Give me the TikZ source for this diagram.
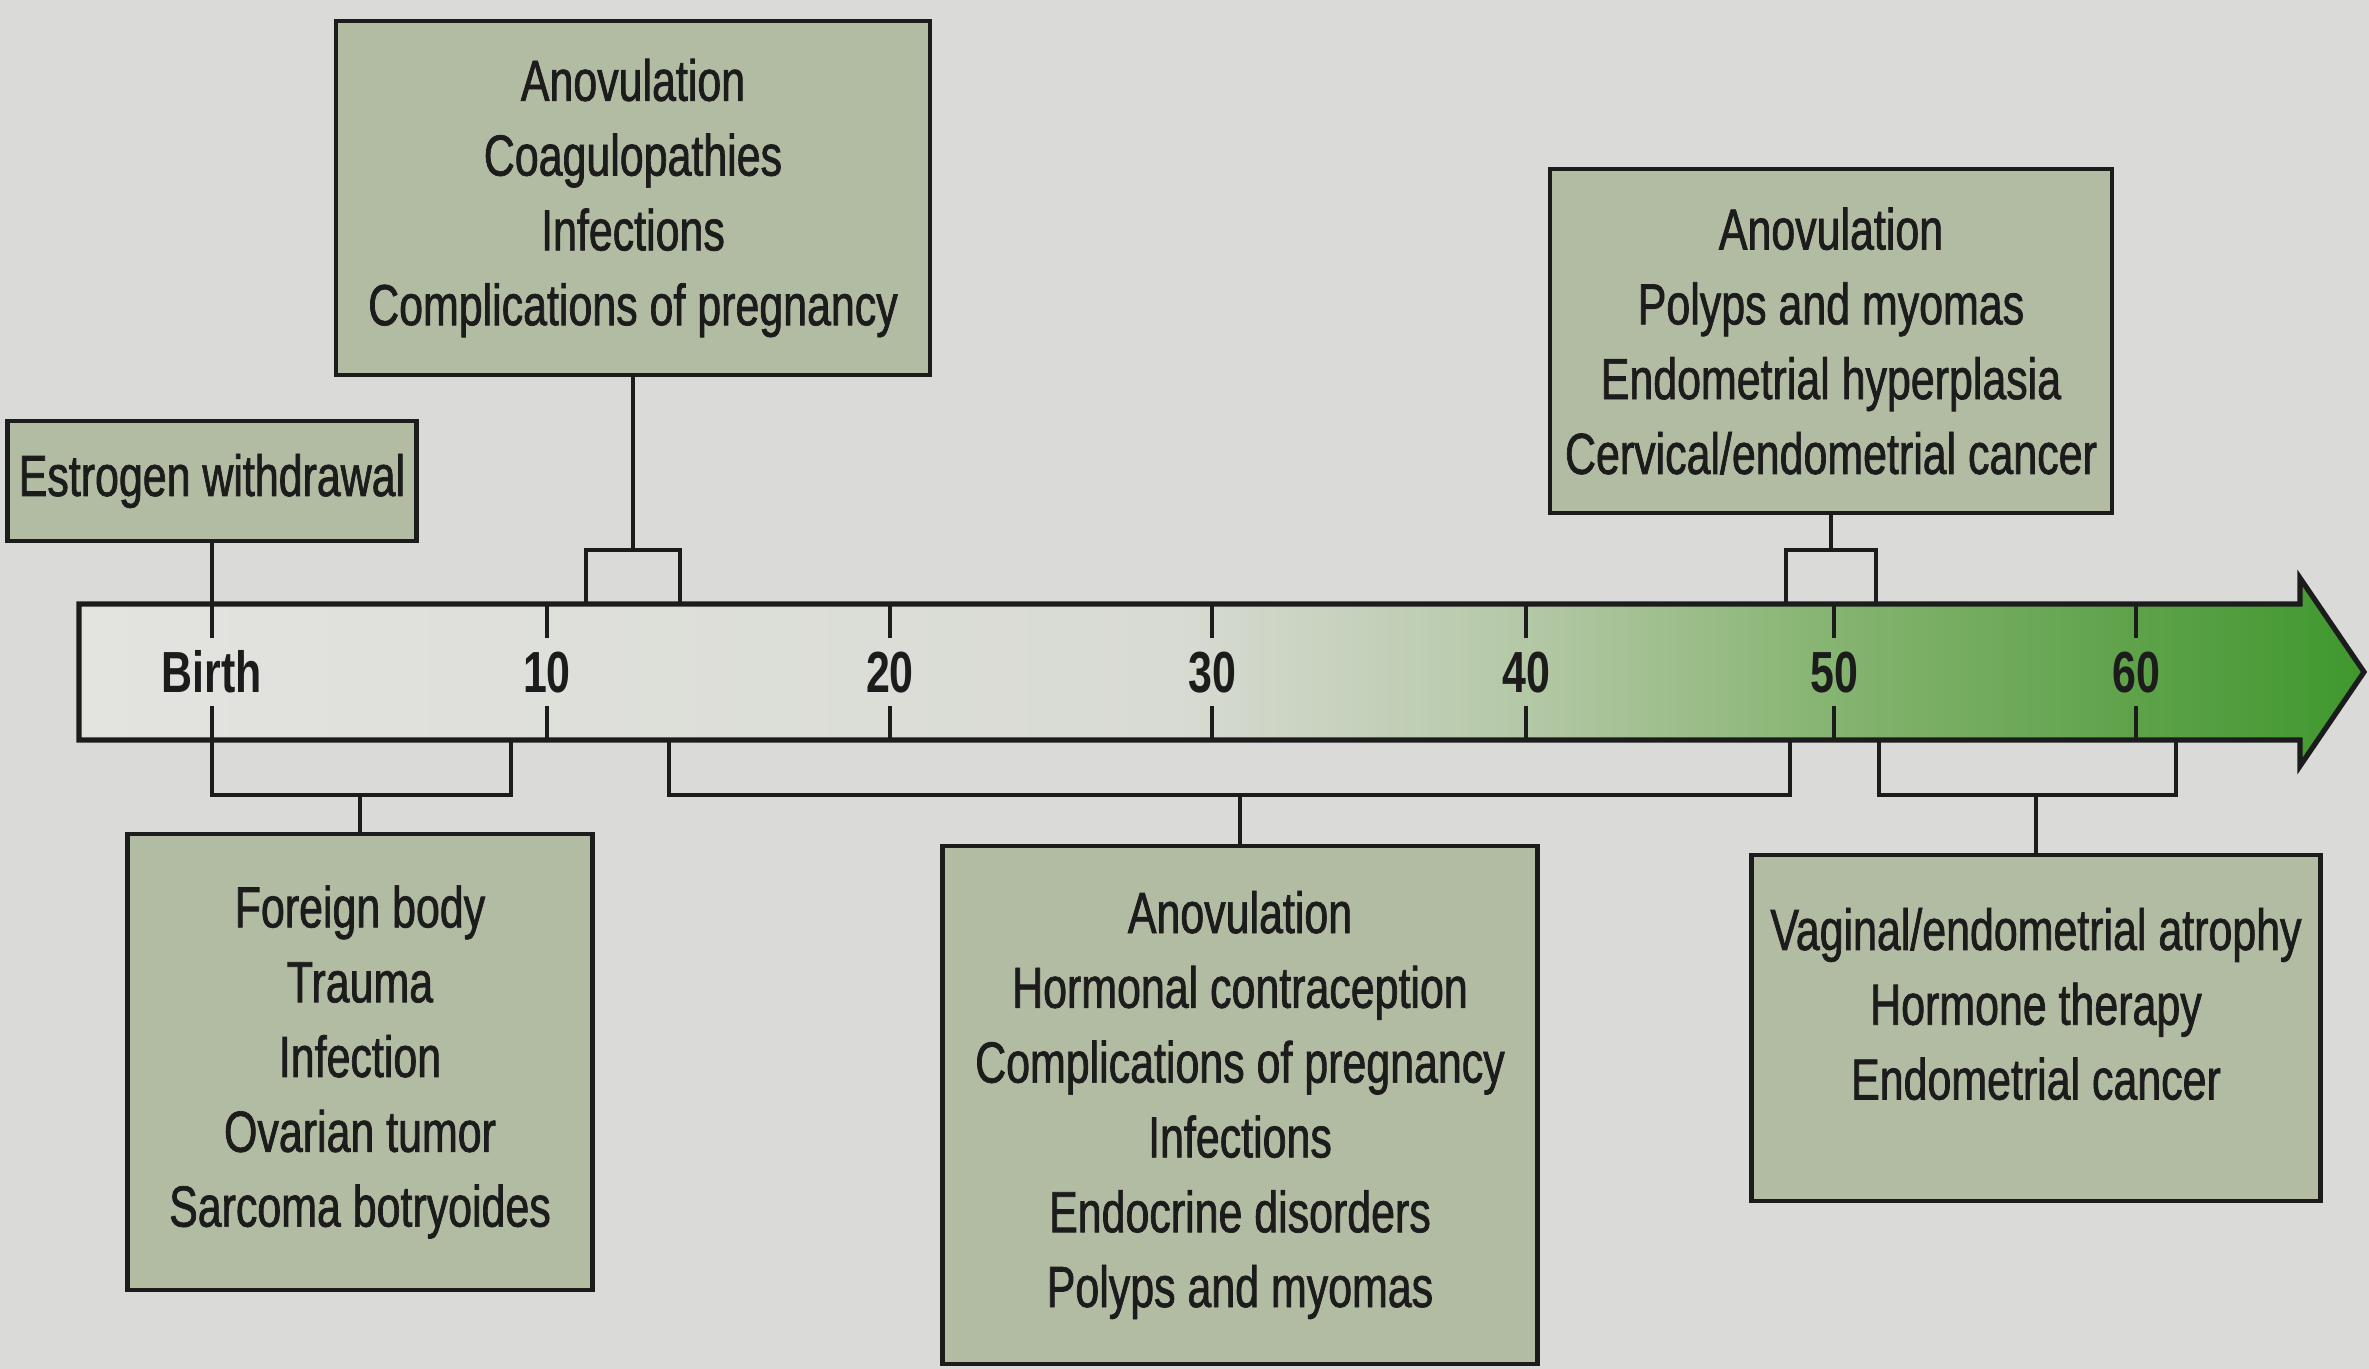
\documentclass[tikz,border=0pt]{standalone}
\usepackage{fontspec}
\setmainfont{Liberation Sans}[FakeStretch=0.74]
\newfontfamily\boxfam{Liberation Sans}[FakeStretch=0.74, FakeBold=1.2]
\definecolor{paper}{HTML}{DADAD8}
\definecolor{boxfill}{HTML}{B1BCA3}
\definecolor{ink}{HTML}{1C1C1C}
\definecolor{barL}{HTML}{E3E3E0}
\definecolor{barM}{HTML}{D8DBD3}
\definecolor{gA}{HTML}{B2C7A4}
\definecolor{gB}{HTML}{88B573}
\definecolor{gC}{HTML}{5EA24A}
\definecolor{gD}{HTML}{3F982E}
\pgfdeclarehorizontalshading{barshade}{100bp}{color(0bp)=(barL); color(25bp)=(barL); color(49bp)=(barM); color(57bp)=(gA); color(63bp)=(gB); color(70bp)=(gC); color(75bp)=(gD); color(100bp)=(gD)}
\newcommand{\boxfont}{\boxfam\fontsize{14.5}{18.7}\selectfont}
\begin{document}
\begin{tikzpicture}[x=0.25pt,y=-0.25pt,
  box/.style={draw=ink, line width=1.1pt, fill=boxfill, align=center, font=\boxfont, text=ink, inner sep=0pt},
  boxtext/.style={align=center, font=\boxfont, text=ink, inner sep=0pt},
  tlabel/.style={font=\bfseries\fontsize{14.5}{17}\selectfont, text=ink, text height=10.4pt, text depth=0pt, inner xsep=2pt, inner ysep=3pt},
  stem/.style={draw=ink, line width=0.8pt},
  bracket/.style={draw=ink, line width=1.1pt}]
\useasboundingbox (0,0) rectangle (2369,1369);
\fill[paper] (0,0) rectangle (2369,1369);

% timeline bar
\shadedraw[shading=barshade, draw=ink, line width=1.3pt, line join=miter]
  (79,604) -- (2300,604) -- (2300,578) -- (2364,672) -- (2300,766) -- (2300,740) -- (79,740) -- cycle;

\coordinate (bT) at (0,604);
\coordinate (bB) at (0,740);
\coordinate (yA) at (0,550);
\coordinate (yL) at (0,795);

% tick labels
\node[tlabel] (l0) at (212,672) {Birth};
\node[tlabel] (l1) at (547,672) {10};
\node[tlabel] (l2) at (890,672) {20};
\node[tlabel] (l3) at (1212,672) {30};
\node[tlabel] (l4) at (1526,672) {40};
\node[tlabel] (l5) at (1834,672) {50};
\node[tlabel] (l6) at (2136,672) {60};
\foreach \i in {1,...,6}{
  \draw[stem] (l\i.north) -- (l\i.north |- bT);
  \draw[stem] (l\i.south) -- (l\i.south |- bB);
}

% boxes
\node[box, minimum width=148.5pt, minimum height=88.5pt] (tc) at (633,198)
  {Anovulation\\Coagulopathies\\Infections\\Complications of pregnancy};
\node[box, minimum width=102.25pt, minimum height=30pt] (est) at (212,481)
  {Estrogen withdrawal};
\node[box, minimum width=140.5pt, minimum height=86pt] (tr) at (1831,341)
  {Anovulation\\Polyps and myomas\\Endometrial hyperplasia\\Cervical/endometrial cancer};
\node[box, minimum width=116.25pt, minimum height=114pt] (bl) at (360,1062)
  {Foreign body\\Trauma\\Infection\\Ovarian tumor\\Sarcoma botryoides};
\node[box, minimum width=148.75pt, minimum height=129.5pt] (bm) at (1240,1105)
  {Anovulation\\Hormonal contraception\\Complications of pregnancy\\Infections\\Endocrine disorders\\Polyps and myomas};
\node[box, minimum width=142.25pt, minimum height=86.5pt] (br) at (2036,1028) {};
\node[boxtext] (brt) at ([yshift=6pt]br.center)
  {Vaginal/endometrial atrophy\\Hormone therapy\\Endometrial cancer};

% bracket coordinates
\coordinate (ta1) at (586,604);
\coordinate (ta2) at (680,604);
\coordinate (tb1) at (1786,604);
\coordinate (tb2) at (1876,604);
\coordinate (ba2) at (511,740);
\coordinate (bb1) at (669,740);
\coordinate (bb2) at (1790,740);
\coordinate (bc1) at (1879,740);
\coordinate (bc2) at (2176,740);

\coordinate (mtc) at (tc.south |- yA);
\coordinate (mtr) at (tr.south |- yA);
\coordinate (mbl) at (bl.north |- yL);
\coordinate (mbm) at (bm.north |- yL);
\coordinate (mbr) at (br.north |- yL);

% top connectors
\draw[stem] (est.south) -- (l0.north);
\draw[stem] (tc.south) -- (mtc);
\draw[bracket] (ta1) |- (mtc) -| (ta2);
\draw[stem] (tr.south) -- (mtr);
\draw[bracket] (tb1) |- (mtr) -| (tb2);

% bottom connectors
\draw[bracket] (l0.south) |- (mbl) -| (ba2);
\draw[stem] (mbl) -- (bl.north);
\draw[bracket] (bb1) |- (mbm) -| (bb2);
\draw[stem] (mbm) -- (bm.north);
\draw[bracket] (bc1) |- (mbr) -| (bc2);
\draw[stem] (mbr) -- (br.north);
\end{tikzpicture}
\end{document}
